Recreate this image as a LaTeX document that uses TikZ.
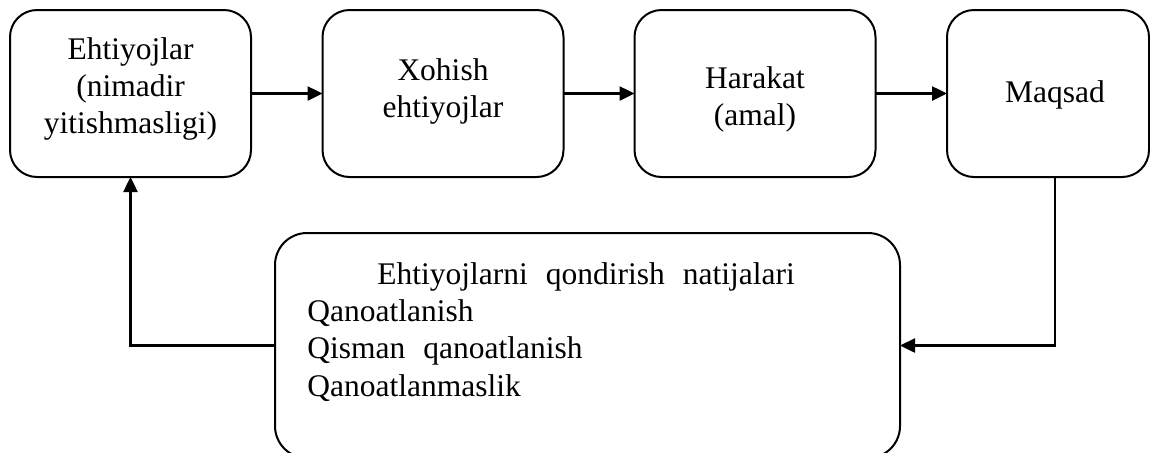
\documentclass[tikz,border=0pt]{standalone}
\usepackage{fontspec}
\setmainfont{Liberation Serif}
\newfontfamily\timesfont{Liberation Serif}
\usetikzlibrary{arrows.meta}
\begin{document}
\begin{tikzpicture}[x=0.5pt,y=-0.5pt,
  stagebox/.style={draw,line width=1pt,rounded corners=13.5pt,inner sep=0pt,outer sep=0pt,
    minimum width=120.5pt,minimum height=83.5pt},
  resultbox/.style={draw,line width=1pt,rounded corners=16pt,inner sep=0pt,outer sep=0pt,
    minimum width=312.5pt,minimum height=112.5pt},
  boxtext/.style={inner sep=0pt,anchor=base,align=center,
    font=\timesfont\fontsize{15.75}{18.4}\selectfont},
  listtext/.style={inner sep=0pt,anchor=base west,align=left,
    font=\timesfont\fontsize{15.75}{18.6}\selectfont},
  flow/.style={line width=1.25pt,-{Triangle[length=7.5pt,width=7pt]}}]
\useasboundingbox[fill=white] (0,0) rectangle (1150,452);

% process stages
\node[stagebox] (b1) at (130.5,93.5) {};
\node[stagebox] (b2) at (443,93.5) {};
\node[stagebox] (b3) at (755,93.5) {};
\node[stagebox,minimum width=101pt] (b4) at (1048,93.5) {};
\node[resultbox] (b5) at (587.5,345.5) {};

% texts, placed by the baseline of their last line
\node[boxtext] (t1) at (130.5,133) {Ehtiyojlar\\(nimadir\\yitishmasligi)};
\node[boxtext] (t2) at (443,117) {Xohish\\ehtiyojlar};
\node[boxtext] (t3) at (755,125) {Harakat\\(amal)};
\node[boxtext] (t4) at (1055,102) {Maqsad};
\node[listtext] (t5) at (307,396) {\hspace*{35pt}Ehtiyojlarni\hspace{9pt}qondirish\hspace{9pt}natijalari\\
  Qanoatlanish\\
  Qisman\hspace{9pt}qanoatlanish\\
  Qanoatlanmaslik};

% connectors
\draw[flow] (b1.east) -- (b2.west);
\draw[flow] (b2.east) -- (b3.west);
\draw[flow] (b3.east) -- (b4.west);
\draw[flow] (b4.south -| t4) |- (b5.east);
\draw[flow] (b5.west) -| (b1.south);
\end{tikzpicture}
\end{document}
